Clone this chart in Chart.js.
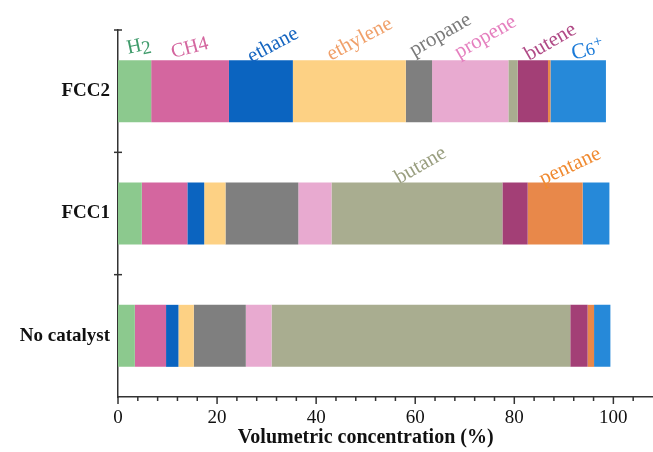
<!DOCTYPE html>
<html>
<head>
<meta charset="utf-8">
<script src="https://cdn.jsdelivr.net/npm/chart.js@4"></script>
<style>
  html, body { margin: 0; padding: 0; background: #fff; }
  #wrap { width: 653px; height: 452px; }
</style>
</head>
<body>
<div id="wrap"><canvas id="chart" width="653" height="452"></canvas></div>
<script>
// categories (top to bottom) and volumetric shares (%) per component
const categories = ['FCC2', 'FCC1', 'No catalyst'];
const h2 = [6.7, 4.8, 3.4];
const ch4 = [15.7, 9.2, 6.3];
const ethane = [12.9, 3.4, 2.5];
const ethylene = [22.8, 4.3, 3.1];
const propane = [5.3, 14.7, 10.5];
const propene = [15.4, 6.7, 5.2];
const butane = [1.9, 34.5, 60.3];
const butene = [6.1, 5.1, 3.5];
const pentane = [0.5, 11.1, 1.3];
const c6plus = [11.2, 5.4, 3.3];
const xMajorTicks = [0, 20, 40, 60, 80, 100];

const SERIF = '"Liberation Serif", "Times New Roman", serif';

const series = [
  { label: 'H2', data: h2, color: '#8cc98e' },
  { label: 'CH4', data: ch4, color: '#d4669f' },
  { label: 'ethane', data: ethane, color: '#0b64c0' },
  { label: 'ethylene', data: ethylene, color: '#fdd184' },
  { label: 'propane', data: propane, color: '#7f7f7f' },
  { label: 'propene', data: propene, color: '#e8aad0' },
  { label: 'butane', data: butane, color: '#a9ad90' },
  { label: 'butene', data: butene, color: '#a33f76' },
  { label: 'pentane', data: pentane, color: '#e8884a' },
  { label: 'C6+', data: c6plus, color: '#2689d9' }
];

// rotated labels above the bars: anchored at an x value on a category, shifted up from bar top
const notes = [
  { cat: 0, at: 4.2, dy: -14, angle: -12, color: '#3f9b6b', parts: [['H', 20, 0], ['2', 19, 4]] },
  { cat: 0, at: 14.5, dy: -12, angle: -15, color: '#d4669f', parts: [['CH4', 20, 0]] },
  { cat: 0, at: 31.3, dy: -15, angle: -28, color: '#1565c0', parts: [['ethane', 21, 0]] },
  { cat: 0, at: 48.8, dy: -21, angle: -28, color: '#f0a06a', parts: [['ethylene', 21, 0]] },
  { cat: 0, at: 65.1, dy: -25, angle: -30, color: '#7a7a7a', parts: [['propane', 21, 0]] },
  { cat: 0, at: 74.2, dy: -23, angle: -30, color: '#e580bf', parts: [['propene', 21, 0]] },
  { cat: 0, at: 87.3, dy: -18, angle: -30, color: '#b04a86', parts: [['butene', 21, 0]] },
  { cat: 0, at: 94.8, dy: -10, angle: -14, color: '#1a7ad8', parts: [['C', 22, 0], ['6', 18, 1], ['+', 16, -5]] },
  { cat: 1, at: 61.1, dy: -17, angle: -30, color: '#9a9f80', parts: [['butane', 21, 0]] },
  { cat: 1, at: 91.3, dy: -16, angle: -25, color: '#f08a30', parts: [['pentane', 21, 0]] }
];

const axisPlugin = {
  id: 'axisExtras',
  afterDraw(chart) {
    const { ctx, chartArea: area, scales: { x, y } } = chart;
    ctx.save();
    ctx.strokeStyle = '#333';
    ctx.lineWidth = 1.5;

    // x ticks, outward, long on majors
    x.ticks.forEach(t => {
      const px = x.getPixelForValue(t.value);
      if (px > area.right - 1) return;
      const len = xMajorTicks.includes(t.value) ? 7 : 4;
      ctx.beginPath();
      ctx.moveTo(px, area.bottom);
      ctx.lineTo(px, area.bottom + len);
      ctx.stroke();
    });

    // y ticks at category boundaries, crossing the axis
    const step = (y.getPixelForValue(1) - y.getPixelForValue(0));
    for (let i = 0; i < categories.length; i++) {
      const py = y.getPixelForValue(i) - step / 2;
      ctx.beginPath();
      ctx.moveTo(area.left - 4, py);
      ctx.lineTo(area.left + 4, py);
      ctx.stroke();
    }

    // x title centred on 50 %
    ctx.fillStyle = '#111';
    ctx.font = 'bold 20px ' + SERIF;
    ctx.textAlign = 'center';
    ctx.textBaseline = 'alphabetic';
    ctx.fillText('Volumetric concentration (%)', x.getPixelForValue(50), 443);

    // component labels
    const barTop = i => {
      const meta = chart.getDatasetMeta(0).data[i];
      return meta.y - meta.height / 2;
    };
    notes.forEach(n => {
      ctx.save();
      ctx.translate(x.getPixelForValue(n.at), barTop(n.cat) + n.dy);
      ctx.rotate(n.angle * Math.PI / 180);
      ctx.fillStyle = n.color;
      ctx.textAlign = 'left';
      ctx.textBaseline = 'middle';
      let total = 0;
      n.parts.forEach(p => { ctx.font = p[1] + 'px ' + SERIF; total += ctx.measureText(p[0]).width; });
      let cx = -total / 2;
      n.parts.forEach(p => {
        ctx.font = p[1] + 'px ' + SERIF;
        ctx.fillText(p[0], cx, p[2]);
        cx += ctx.measureText(p[0]).width;
      });
      ctx.restore();
    });
    ctx.restore();
  }
};

new Chart(document.getElementById('chart'), {
  type: 'bar',
  data: {
    labels: categories,
    datasets: series.map(s => ({
      label: s.label,
      data: s.data,
      backgroundColor: s.color,
      borderWidth: 0,
      categoryPercentage: 0.507,
      barPercentage: 1
    }))
  },
  options: {
    indexAxis: 'y',
    responsive: false,
    animation: false,
    layout: { padding: { top: 30, right: 0, bottom: 0, left: 0 } },
    plugins: { legend: { display: false }, tooltip: { enabled: false } },
    scales: {
      x: {
        stacked: true,
        min: 0,
        max: 108,
        grid: { display: false, drawTicks: false },
        border: { display: true, color: '#333', width: 1.5 },
        ticks: {
          stepSize: 4,
          autoSkip: false,
          maxRotation: 0,
          padding: 10,
          color: '#111',
          font: { family: SERIF, size: 19 },
          callback: v => (xMajorTicks.includes(v) ? v : '')
        },
        afterFit: s => { s.height = 55; s.paddingLeft = 0; s.paddingRight = 0; }
      },
      y: {
        stacked: true,
        grid: { display: false, drawTicks: false },
        border: { display: true, color: '#333', width: 1.5 },
        ticks: {
          padding: 8,
          color: '#111',
          font: { family: SERIF, size: 19, weight: 'bold' }
        },
        afterFit: s => { s.width = 118; s.paddingTop = 0; s.paddingBottom = 0; }
      }
    }
  },
  plugins: [axisPlugin]
});
</script>
</body>
</html>
